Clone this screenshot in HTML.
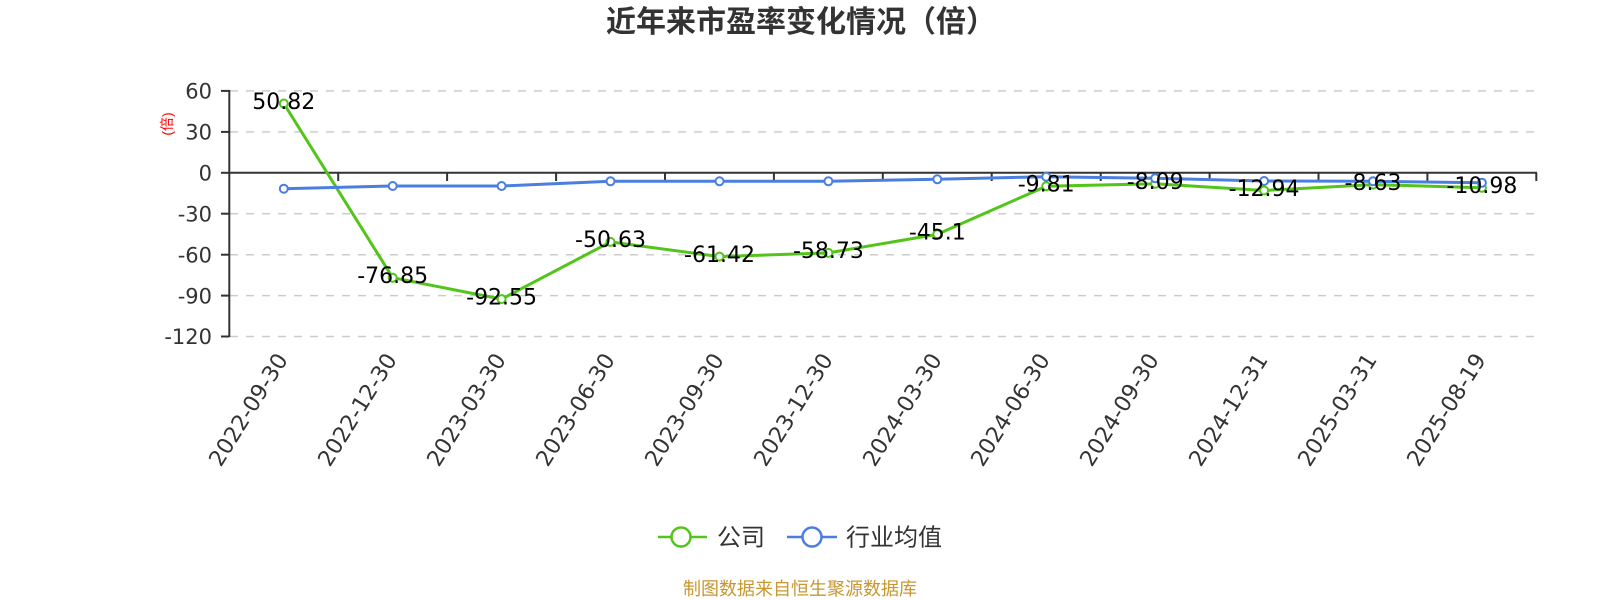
<!DOCTYPE html>
<html>
<head>
<meta charset="utf-8">
<style>
html,body{margin:0;padding:0;background:#fff;}
svg{display:block;}
.cjk{font-family:"Liberation Sans","Noto Sans CJK SC",sans-serif;}
.num{font-family:"DejaVu Sans","Liberation Sans",sans-serif;}
</style>
</head>
<body>
<svg width="1600" height="600" viewBox="0 0 1600 600" xmlns="http://www.w3.org/2000/svg">
  <rect width="1600" height="600" fill="#fff"/>
  <!-- Title -->
  <text x="801" y="32" text-anchor="middle" class="cjk" font-size="30" font-weight="bold" fill="#333">近年来市盈率变化情况（倍）</text>

  <!-- grid lines -->
  <g stroke="#cccccc" stroke-width="1.5" stroke-dasharray="8 8">
    <line x1="230" y1="90.9" x2="1536" y2="90.9"/>
    <line x1="230" y1="131.9" x2="1536" y2="131.9"/>
    <line x1="230" y1="213.7" x2="1536" y2="213.7"/>
    <line x1="230" y1="254.7" x2="1536" y2="254.7"/>
    <line x1="230" y1="295.6" x2="1536" y2="295.6"/>
    <line x1="230" y1="336.5" x2="1536" y2="336.5"/>
  </g>

  <!-- y axis -->
  <g stroke="#333" stroke-width="2">
    <line x1="229.3" y1="90" x2="229.3" y2="337"/>
    <line x1="221" y1="90.9" x2="229.3" y2="90.9"/>
    <line x1="221" y1="131.9" x2="229.3" y2="131.9"/>
    <line x1="221" y1="172.8" x2="229.3" y2="172.8"/>
    <line x1="221" y1="213.7" x2="229.3" y2="213.7"/>
    <line x1="221" y1="254.7" x2="229.3" y2="254.7"/>
    <line x1="221" y1="295.6" x2="229.3" y2="295.6"/>
    <line x1="221" y1="336.5" x2="229.3" y2="336.5"/>
  </g>
  <!-- x axis at zero -->
  <g stroke="#333" stroke-width="2">
    <line x1="229.3" y1="172.8" x2="1537" y2="172.8"/>
    <line x1="338.2" y1="172.8" x2="338.2" y2="181"/>
    <line x1="447.1" y1="172.8" x2="447.1" y2="181"/>
    <line x1="556.1" y1="172.8" x2="556.1" y2="181"/>
    <line x1="665.0" y1="172.8" x2="665.0" y2="181"/>
    <line x1="773.9" y1="172.8" x2="773.9" y2="181"/>
    <line x1="882.8" y1="172.8" x2="882.8" y2="181"/>
    <line x1="991.7" y1="172.8" x2="991.7" y2="181"/>
    <line x1="1100.7" y1="172.8" x2="1100.7" y2="181"/>
    <line x1="1209.6" y1="172.8" x2="1209.6" y2="181"/>
    <line x1="1318.5" y1="172.8" x2="1318.5" y2="181"/>
    <line x1="1427.4" y1="172.8" x2="1427.4" y2="181"/>
    <line x1="1536.3" y1="172.8" x2="1536.3" y2="181"/>
  </g>

  <!-- y tick labels -->
  <g class="num" font-size="21" fill="#333" text-anchor="end">
    <text x="212" y="98.6">60</text>
    <text x="212" y="139.6">30</text>
    <text x="212" y="180.5">0</text>
    <text x="212" y="221.4">-30</text>
    <text x="212" y="262.4">-60</text>
    <text x="212" y="303.3">-90</text>
    <text x="212" y="344.2">-120</text>
  </g>

  <!-- y axis name -->
  <text transform="translate(167,124) rotate(-90)" text-anchor="middle" dominant-baseline="central" class="cjk" font-size="14" fill="#ff0000">(倍)</text>

  <!-- x labels -->
  <g class="num" font-size="22" fill="#333" text-anchor="end" dominant-baseline="central">
    <text transform="translate(283,356) rotate(-58)">2022-09-30</text>
    <text transform="translate(392,356) rotate(-58)">2022-12-30</text>
    <text transform="translate(501,356) rotate(-58)">2023-03-30</text>
    <text transform="translate(610,356) rotate(-58)">2023-06-30</text>
    <text transform="translate(719,356) rotate(-58)">2023-09-30</text>
    <text transform="translate(828,356) rotate(-58)">2023-12-30</text>
    <text transform="translate(937,356) rotate(-58)">2024-03-30</text>
    <text transform="translate(1045,356) rotate(-58)">2024-06-30</text>
    <text transform="translate(1154,356) rotate(-58)">2024-09-30</text>
    <text transform="translate(1263,356) rotate(-58)">2024-12-31</text>
    <text transform="translate(1372,356) rotate(-58)">2025-03-31</text>
    <text transform="translate(1481,356) rotate(-58)">2025-08-19</text>
  </g>

  <!-- green series -->
  <polyline fill="none" stroke="#52c41a" stroke-width="3" stroke-linejoin="round"
    points="283.8,103.5 392.7,277.7 501.6,299.1 610.5,241.9 719.5,256.6 828.4,252.9 937.3,234.3 1046.2,186.2 1155.2,183.8 1264.1,190.5 1373.0,184.6 1481.9,187.8"/>
  <g fill="#fff" stroke="#52c41a" stroke-width="2">
    <circle cx="283.8" cy="103.5" r="4"/>
    <circle cx="392.7" cy="277.7" r="4"/>
    <circle cx="501.6" cy="299.1" r="4"/>
    <circle cx="610.5" cy="241.9" r="4"/>
    <circle cx="719.5" cy="256.6" r="4"/>
    <circle cx="828.4" cy="252.9" r="4"/>
    <circle cx="937.3" cy="234.3" r="4"/>
    <circle cx="1046.2" cy="186.2" r="4"/>
    <circle cx="1155.2" cy="183.8" r="4"/>
    <circle cx="1264.1" cy="190.5" r="4"/>
    <circle cx="1373.0" cy="184.6" r="4"/>
    <circle cx="1481.9" cy="187.8" r="4"/>
  </g>

  <!-- blue series -->
  <polyline fill="none" stroke="#4a7fe0" stroke-width="3" stroke-linejoin="round"
    points="283.8,188.7 392.7,186 501.6,186 610.5,181.3 719.5,181.3 828.4,181.3 937.3,179.3 1046.2,176.7 1155.2,178.3 1264.1,181 1373.0,181.3 1481.9,182.7"/>
  <g fill="#fff" stroke="#4a7fe0" stroke-width="2">
    <circle cx="283.8" cy="188.7" r="4"/>
    <circle cx="392.7" cy="186" r="4"/>
    <circle cx="501.6" cy="186" r="4"/>
    <circle cx="610.5" cy="181.3" r="4"/>
    <circle cx="719.5" cy="181.3" r="4"/>
    <circle cx="828.4" cy="181.3" r="4"/>
    <circle cx="937.3" cy="179.3" r="4"/>
    <circle cx="1046.2" cy="176.7" r="4"/>
    <circle cx="1155.2" cy="178.3" r="4"/>
    <circle cx="1264.1" cy="181" r="4"/>
    <circle cx="1373.0" cy="181.3" r="4"/>
    <circle cx="1481.9" cy="182.7" r="4"/>
  </g>

  <!-- data labels -->
  <g class="num" font-size="22" fill="#000" text-anchor="middle">
    <text x="283.8" y="108.8">50.82</text>
    <text x="392.7" y="283">-76.85</text>
    <text x="501.6" y="304.4">-92.55</text>
    <text x="610.5" y="247.2">-50.63</text>
    <text x="719.5" y="261.9">-61.42</text>
    <text x="828.4" y="258.2">-58.73</text>
    <text x="937.3" y="239.6">-45.1</text>
    <text x="1046.2" y="191.5">-9.81</text>
    <text x="1155.2" y="189.1">-8.09</text>
    <text x="1264.1" y="195.8">-12.94</text>
    <text x="1373.0" y="189.9">-8.63</text>
    <text x="1481.9" y="193.1">-10.98</text>
  </g>

  <!-- legend -->
  <line x1="658" y1="537" x2="707" y2="537" stroke="#52c41a" stroke-width="2.5"/>
  <circle cx="681" cy="537" r="9.5" fill="#fff" stroke="#52c41a" stroke-width="2.5"/>
  <text x="717" y="545.5" class="cjk" font-size="24" fill="#333">公司</text>
  <line x1="787" y1="537" x2="837" y2="537" stroke="#4a7fe0" stroke-width="2.5"/>
  <circle cx="812" cy="537" r="9.5" fill="#fff" stroke="#4a7fe0" stroke-width="2.5"/>
  <text x="846" y="545.5" class="cjk" font-size="24" fill="#333">行业均值</text>

  <!-- footer -->
  <text x="800" y="595" text-anchor="middle" class="cjk" font-size="18" fill="#c9962f">制图数据来自恒生聚源数据库</text>
</svg>
</body>
</html>
